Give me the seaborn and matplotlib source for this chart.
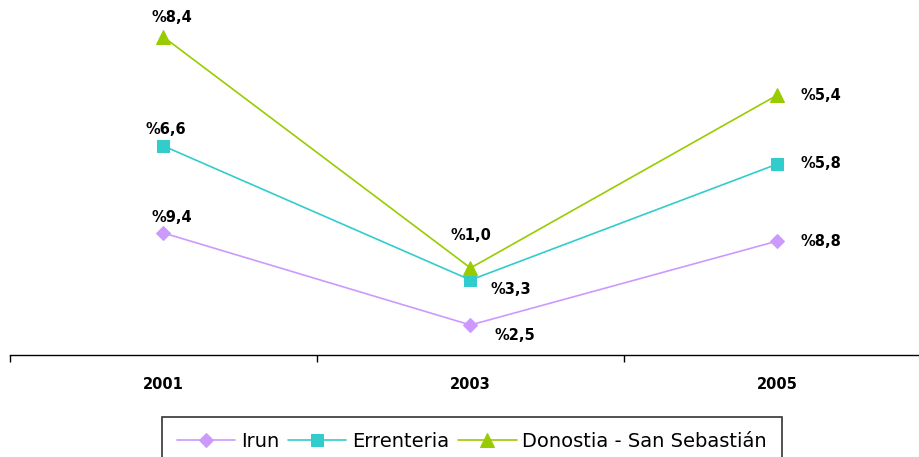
import seaborn as sns
import pandas as pd
import matplotlib.pyplot as plt

# data (values in chart units, labels as printed)
years = ["2001", "2003", "2005"]
cities = ["Irun", "Errenteria", "Donostia - San Sebastián"]
irun = [6.1, 1.5, 5.7]
errenteria = [10.45, 3.75, 9.55]
donostia = [15.9, 4.35, 13.0]
irun_labels = ["%9,4", "%2,5", "%8,8"]
errenteria_labels = ["%6,6", "%3,3", "%5,8"]
donostia_labels = ["%8,4", "%1,0", "%5,4"]

series = [irun, errenteria, donostia]
labels = [irun_labels, errenteria_labels, donostia_labels]
colors = ["#CC99FF", "#33CCCC", "#99CC00"]
markers = ["D", "s", "^"]
msizes = [7, 8, 10]

# label offsets in pixels for each point
offsets = [
    [(8, 16), (44, -10), (43, 0)],
    [(2, 16), (40, -10), (43, 0)],
    [(8, 20), (0, 32), (43, 0)],
]

sns.set_style("white")
plt.rcParams["font.family"] = ["DejaVu Sans"]

fig = plt.figure(figsize=(9.2, 4.57), dpi=100)
ax = fig.add_axes([10 / 920, 1 - 355 / 457, 921 / 920, (355 - 20) / 457])

for city, vals, col, mk, ms in zip(cities, series, colors, markers, msizes):
    df = pd.DataFrame({"year": years, "value": vals})
    sns.lineplot(data=df, x="year", y="value", ax=ax, color=col, marker=mk,
                 markersize=ms, markeredgecolor=col, linewidth=1.2, label=city)

for vals, labs, offs in zip(series, labels, offsets):
    for i, (v, lab, off) in enumerate(zip(vals, labs, offs)):
        ax.annotate(lab, (i, v), xytext=off, textcoords="offset pixels",
                    ha="center", va="center", fontsize=10.5, fontweight="bold",
                    color="black")

ax.set_xlim(-0.5, 2.5)
ax.set_ylim(0, 16.75)
ax.set_xlabel("")
ax.set_ylabel("")
ax.set_yticks([])
ax.set_xticks(range(3))
ax.set_xticklabels(years, fontsize=10.5, fontweight="bold", color="black")
ax.set_xticks([-0.5, 0.5, 1.5, 2.5], minor=True)
ax.tick_params(axis="x", which="major", length=0, pad=16)
ax.tick_params(axis="x", which="minor", length=5, width=1, color="black",
               direction="out", bottom=True)
for s in ["top", "right", "left"]:
    ax.spines[s].set_visible(False)
ax.spines["bottom"].set_color("black")
ax.spines["bottom"].set_linewidth(1)

leg = ax.legend(loc="upper center", bbox_to_anchor=(472 / 920, 1 - 417 / 457),
                bbox_transform=fig.transFigure, ncol=3, frameon=True,
                fancybox=False, edgecolor="black", fontsize=14,
                handlelength=3.0, handletextpad=0.3, columnspacing=0.45,
                borderpad=0.75, borderaxespad=0)
leg.get_frame().set_linewidth(1.2)
for t in leg.get_texts():
    t.set_color("black")

fig.savefig("out.png", dpi=100)
